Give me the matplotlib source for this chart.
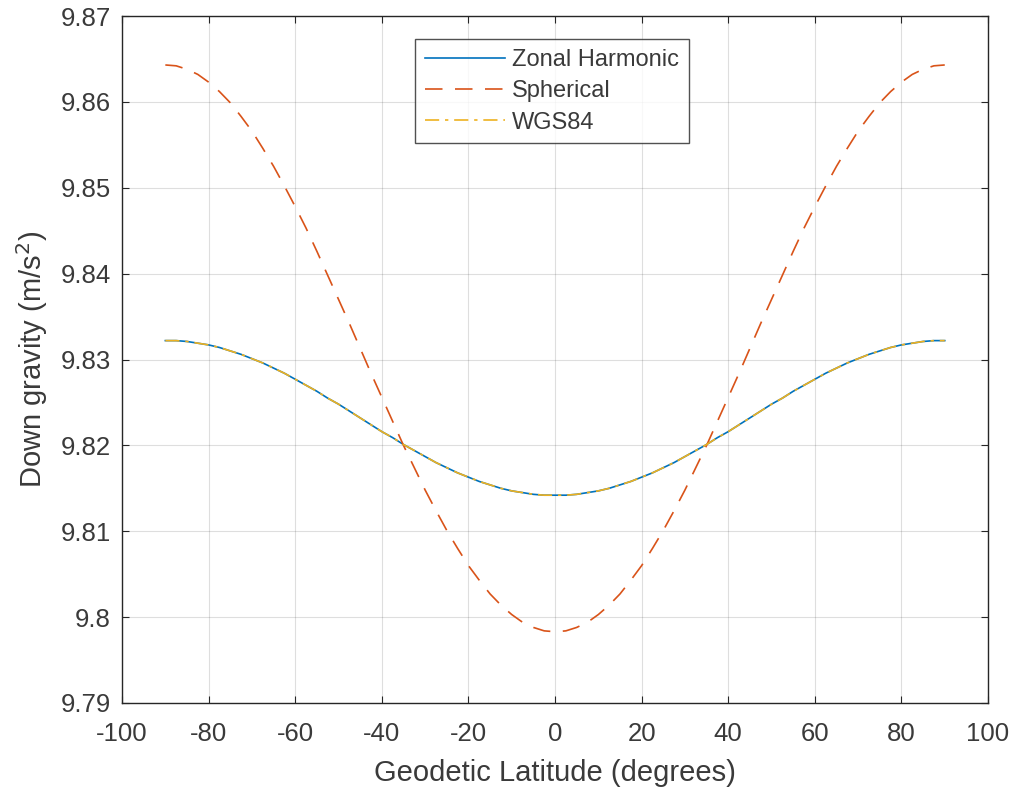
import matplotlib
matplotlib.use("Agg")
import matplotlib.pyplot as plt

plt.rcParams['font.family'] = ['Liberation Sans', 'DejaVu Sans']
plt.rcParams['axes.unicode_minus'] = False

lat_half = [0, 2.5, 5, 7.5, 10, 12.5, 15, 17.5, 20, 22.5, 25, 27.5, 30, 32.5, 35, 37.5, 40, 42.5,
            45, 47.5, 50, 52.5, 55, 57.5, 60, 62.5, 65, 67.5, 70, 72.5, 75, 77.5, 80, 82.5, 85, 87.5, 90]

zonal_half = [9.8142, 9.8142, 9.8143, 9.8145, 9.8147, 9.8150, 9.8154, 9.8158, 9.8163, 9.8168,
              9.8174, 9.8180, 9.8187, 9.8194, 9.8201, 9.8209, 9.8216, 9.8224, 9.8232, 9.8240,
              9.8248, 9.8255, 9.8263, 9.8270, 9.8277, 9.8284, 9.8290, 9.8296, 9.8301, 9.8306,
              9.8310, 9.8314, 9.8317, 9.8319, 9.8321, 9.8322, 9.8322]
spherical_half = [9.7983, 9.7984, 9.7988, 9.7994, 9.8003, 9.8014, 9.8027, 9.8043, 9.8060, 9.8080,
                  9.8101, 9.8124, 9.8148, 9.8174, 9.8200, 9.8228, 9.8256, 9.8284, 9.8313, 9.8342,
                  9.8370, 9.8398, 9.8426, 9.8453, 9.8478, 9.8502, 9.8525, 9.8546, 9.8566, 9.8583,
                  9.8599, 9.8612, 9.8623, 9.8632, 9.8638, 9.8642, 9.8643]

lat = [-v for v in lat_half[::-1][:-1]] + lat_half
zonal = zonal_half[::-1][:-1] + zonal_half
spherical = spherical_half[::-1][:-1] + spherical_half
wgs84 = list(zonal)

xticks = list(range(-100, 101, 20))
yticks = [9.79, 9.80, 9.81, 9.82, 9.83, 9.84, 9.85, 9.86, 9.87]
ytick_labels = ['9.79', '9.8', '9.81', '9.82', '9.83', '9.84', '9.85', '9.86', '9.87']

fig = plt.figure(figsize=(10.11, 7.89), dpi=100)
ax = fig.add_axes([0.1207, 0.109, 0.8566, 0.8707])

c_blue = '#0072BD'
c_orange = '#D95319'
c_yellow = '#EDB120'
dark = '#262626'
txt = '#3a3a3a'

ax.plot(lat, zonal, color=c_blue, lw=1.2, label='Zonal Harmonic')
ax.plot(lat, spherical, color=c_orange, lw=1.2, ls=(0, (10.5, 7.5)), label='Spherical')
ax.plot(lat, wgs84, color=c_yellow, lw=1.2, ls=(0, (8.5, 3.5, 2, 3.5)), label='WGS84')

ax.set_xlim(-100, 100)
ax.set_ylim(9.79, 9.87)
ax.set_xticks(xticks)
ax.set_yticks(yticks)
ax.set_yticklabels(ytick_labels)
ax.grid(True, color='#262626', alpha=0.15, lw=0.8)
ax.tick_params(direction='in', top=True, right=True, labelsize=18.5, colors=dark,
               labelcolor=txt, length=5, width=0.8)
ax.tick_params(axis='x', pad=14)
ax.tick_params(axis='y', pad=8)
for s in ax.spines.values():
    s.set_color(dark)
    s.set_linewidth(1.0)

ax.set_xlabel('Geodetic Latitude (degrees)', fontsize=21, color=txt, labelpad=9)
ax.set_ylabel('Down gravity (m/s$^2$)', fontsize=21, color=txt, labelpad=8)

leg = ax.legend(loc='upper center', bbox_to_anchor=(0.4965, 0.966), fontsize=17, frameon=True,
                fancybox=False, edgecolor=dark, handlelength=3.4, borderpad=0.4, labelspacing=0.4,
                handletextpad=0.3, borderaxespad=0)
leg.get_frame().set_linewidth(1.0)
for t in leg.get_texts():
    t.set_color(txt)

fig.savefig('out.png', dpi=100)
